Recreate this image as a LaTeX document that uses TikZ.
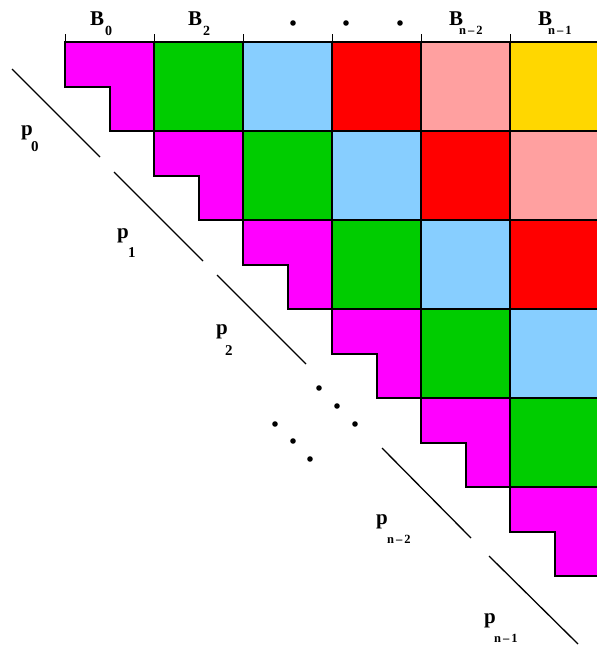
\documentclass[tikz,border=0pt]{standalone}
\usepackage{fontspec}
\setmainfont{Liberation Serif}
\definecolor{cmag}{RGB}{255,0,255}
\definecolor{cgreen}{RGB}{0,204,0}
\definecolor{cblue}{RGB}{135,206,255}
\definecolor{cred}{RGB}{255,0,0}
\definecolor{cpink}{RGB}{255,160,160}
\definecolor{cgold}{RGB}{255,215,0}
\begin{document}
\begin{tikzpicture}[x=1pt,y=-1pt,
  border/.style={draw=black,line width=1.5pt},
  diag/.style={draw=black,line width=1.3pt},
  tick/.style={draw=black,line width=1pt},
  mainlab/.style={inner sep=0pt,anchor=base west,font=\fontsize{21}{21}\selectfont\bfseries},
  sublab/.style={inner sep=0pt,anchor=base west,font=\fontsize{15}{15}\selectfont\bfseries},
  bsublab/.style={inner sep=0pt,anchor=base west,font=\fontsize{14}{14}\selectfont\bfseries},
  nsublab/.style={inner sep=0pt,anchor=base west,font=\fontsize{12.5}{12.5}\selectfont\bfseries}]
\useasboundingbox (0,0) rectangle (597,646);
\clip (0,0) rectangle (597,646);
% coloured cells
\foreach \d/\col in {1/cgreen,2/cblue,3/cred,4/cpink,5/cgold}{
  \foreach \r in {0,...,5}{
    \pgfmathtruncatemacro\c{\r+\d}
    \ifnum\c<6
      \fill[\col] ({65+89*\c},{42+89*\r}) rectangle ++(89,89);
    \fi
  }
}
\foreach \d in {1,...,5}{
  \foreach \r in {0,...,5}{
    \pgfmathtruncatemacro\c{\r+\d}
    \ifnum\c<6
      \draw[border] ({65+89*\c},{42+89*\r}) rectangle ++(89,89);
    \fi
  }
}
% magenta staircases
\foreach \r in {0,...,5}{
  \filldraw[border,fill=cmag] ({65+89*\r},{42+89*\r}) -- ++(89,0) -- ++(0,89) -- ++(-44,0) -- ++(0,-44) -- ++(-45,0) -- cycle;
}
% top bar and ticks
\draw[border] (65,42) -- (597,42);
\foreach \i in {0,...,5}{
  \draw[tick] ({65+89*\i},42) -- ++(0,-8);
}
% column labels
\node[mainlab] (B0) at (90,25) {B};
\node[bsublab] (B0s) at (105,35) {0};
\node[mainlab] (B2) at (188,25) {B};
\node[bsublab] (B2s) at (203,35) {2};
\node[mainlab] (Bn2) at (449,25) {B};
\node[nsublab] (Bn2s) at (459,34) {n\kern2pt--\kern2pt2};
\node[mainlab] (Bn1) at (538,25) {B};
\node[nsublab] (Bn1s) at (548,34) {n\kern2pt--\kern2pt1};
\foreach \x in {293,346,400}{
  \fill (\x,23) circle (2.8pt);
}
% diagonal segments
\draw[diag] (12,69) -- (100,157);
\draw[diag] (114,172) -- (203,261);
\draw[diag] (217,275) -- (306,364);
\draw[diag] (382,448) -- (471,538);
\draw[diag] (489,556) -- (578,644);
% diagonal dots
\foreach \x/\y in {319/388,337/406,355/424,275/424,293/441,310/459}{
  \fill (\x,\y) circle (2.8pt);
}
% row labels
\node[mainlab] (p0) at (21,135) {p};
\node[sublab] (p0s) at (31,151) {0};
\node[mainlab] (p1) at (117,238) {p};
\node[sublab] (p1s) at (128,257) {1};
\node[mainlab] (p2) at (216,334) {p};
\node[sublab] (p2s) at (225,355) {2};
\node[mainlab] (pn2) at (376,524) {p};
\node[nsublab] (pn2s) at (387,543) {n\kern2pt--\kern2pt2};
\node[mainlab] (pn1) at (484,623) {p};
\node[nsublab] (pn1s) at (494,642) {n\kern2pt--\kern2pt1};
\end{tikzpicture}
\end{document}
